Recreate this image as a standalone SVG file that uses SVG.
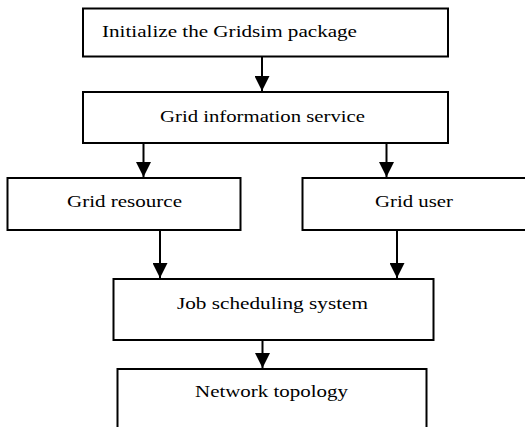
<svg xmlns="http://www.w3.org/2000/svg" width="525" height="427" viewBox="0 0 525 427">
  <style>
    .box { fill: #ffffff; stroke: #000000; stroke-width: 2; }
    .lbl { font-family: "Liberation Serif", "Times New Roman", serif; font-size: 17px; fill: #000000; }
    .edge { stroke: #000000; stroke-width: 2; fill: none; }
  </style>
  <defs>
    <marker id="arrow" viewBox="0 0 15 15" refX="15" refY="7.5" markerWidth="15" markerHeight="15" markerUnits="userSpaceOnUse" orient="auto">
      <path d="M0,0 L15,7.5 L0,15 Z" fill="#000000"/>
    </marker>
  </defs>

  <g id="connectors">
    <line class="edge" x1="262" y1="57" x2="262" y2="91" marker-end="url(#arrow)"/>
    <line class="edge" x1="143.5" y1="143" x2="143.5" y2="177" marker-end="url(#arrow)"/>
    <line class="edge" x1="386.5" y1="143" x2="386.5" y2="177" marker-end="url(#arrow)"/>
    <line class="edge" x1="160" y1="230" x2="160" y2="278" marker-end="url(#arrow)"/>
    <line class="edge" x1="397" y1="230" x2="397" y2="278" marker-end="url(#arrow)"/>
    <line class="edge" x1="262.5" y1="340" x2="262.5" y2="368" marker-end="url(#arrow)"/>
  </g>

  <g id="init">
    <rect class="box" x="83" y="8.5" width="365" height="48"/>
    <text class="lbl" x="102" y="36.5" textLength="255" lengthAdjust="spacingAndGlyphs">Initialize the Gridsim package</text>
  </g>

  <g id="gis">
    <rect class="box" x="83" y="92" width="365" height="51"/>
    <text class="lbl" x="160" y="121.5" textLength="205" lengthAdjust="spacingAndGlyphs">Grid information service</text>
  </g>

  <g id="resource">
    <rect class="box" x="7.5" y="178" width="233" height="52"/>
    <text class="lbl" x="67" y="206.5" textLength="115" lengthAdjust="spacingAndGlyphs">Grid resource</text>
  </g>

  <g id="user">
    <rect class="box" x="302.5" y="178" width="240" height="52"/>
    <text class="lbl" x="375" y="206.5" textLength="78" lengthAdjust="spacingAndGlyphs">Grid user</text>
  </g>

  <g id="scheduler">
    <rect class="box" x="113.5" y="279" width="320" height="61"/>
    <text class="lbl" x="177" y="308.5" textLength="191" lengthAdjust="spacingAndGlyphs">Job scheduling system</text>
  </g>

  <g id="network">
    <rect class="box" x="117.5" y="369" width="309" height="70"/>
    <text class="lbl" x="195" y="396.5" textLength="153" lengthAdjust="spacingAndGlyphs">Network topology</text>
  </g>
</svg>
